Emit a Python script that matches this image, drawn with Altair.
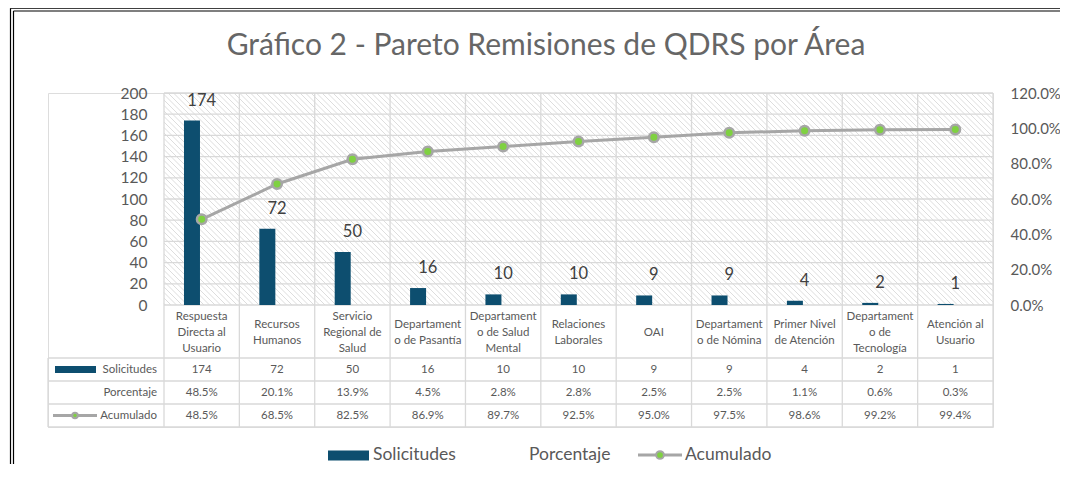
import altair as alt
import pandas as pd
import numpy as np

# ---------------- data ----------------
categories = ["Respuesta Directa al Usuario", "Recursos Humanos", "Servicio Regional de Salud",
              "Departamento de Pasantía", "Departamento de Salud Mental", "Relaciones Laborales",
              "OAI", "Departamento de Nómina", "Primer Nivel de Atención",
              "Departamento de Tecnología", "Atención al Usuario"]
category_labels = ["Respuesta\nDirecta al\nUsuario", "Recursos\nHumanos", "Servicio\nRegional de\nSalud",
                   "Departament\no de Pasantía", "Departament\no de Salud\nMental", "Relaciones\nLaborales",
                   "OAI", "Departament\no de Nómina", "Primer Nivel\nde Atención",
                   "Departament\no de\nTecnología", "Atención al\nUsuario"]
solicitudes = [174, 72, 50, 16, 10, 10, 9, 9, 4, 2, 1]
porcentaje = [48.5, 20.1, 13.9, 4.5, 2.8, 2.8, 2.5, 2.5, 1.1, 0.6, 0.3]
acumulado = [48.5, 68.5, 82.5, 86.9, 89.7, 92.5, 95.0, 97.5, 98.6, 99.2, 99.4]
left_ticks = [0, 20, 40, 60, 80, 100, 120, 140, 160, 180, 200]
right_ticks = [0.0, 0.2, 0.4, 0.6, 0.8, 1.0, 1.2]
series = ["Solicitudes", "Porcentaje", "Acumulado"]
title_text = "Gráfico 2 - Pareto Remisiones de QDRS por Área"

# ---------------- layout (pixels, relative to plot origin) ----------------
W, H = 945, 334
PAD = {"left": 40, "top": 85, "right": 67, "bottom": 37}
X0 = 116                      # left edge of first category
N = len(categories)
COL = (W - X0) / N            # category width in px
Y0 = 212                      # pixel row of value 0
PX_PER_UNIT = Y0 / 200.0
YMIN = 200 - H / PX_PER_UNIT
XMIN = -X0 / COL
HEADER_Y = 239.5
LINE_H = 16
ROW_Y = [276.5, 299.5, 322.5]
ROW_LINES = [265, 288, 311, 334]
RIGHT_EDGE = W + PAD["right"]
BOTTOM_EDGE = H + PAD["bottom"]

BLUE = "#0d4e6f"
GRAY_LINE = "#a6a6a6"
GREEN = "#7fd141"
TXT = "#595959"
GRID = "#d9d9d9"
FONT = "Lato"

xscale = alt.Scale(domain=[XMIN, N], nice=False, zero=False)
yscale = alt.Scale(domain=[YMIN, 200], nice=False, zero=False)
y2scale = alt.Scale(domain=[YMIN * 1.2 / 200, 1.2], nice=False, zero=False)

df = pd.DataFrame({
    "cat": categories,
    "label": category_labels,
    "sol": solicitudes,
    "pct": np.array(porcentaje) / 100.0,
    "acum": np.array(acumulado) / 100.0,
})
df["xc"] = np.arange(N) + 0.5
df["xl"] = df["xc"] - 17.7 / COL
df["xr"] = df["xc"] - 1.7 / COL
df["hy"] = [HEADER_Y - (lab.count("\n")) * LINE_H / 2 for lab in category_labels]

# hatch pattern of plot area (decoration)
hatch = []
step = 5.5
b = -W
while b < Y0 - X0:
    xs = max(X0, -b)
    xe = min(W, Y0 - b)
    if xs < xe:
        hatch.append({"x": xs, "y": xs + b, "x2": xe, "y2": xe + b})
    b += step
hatch_df = pd.DataFrame(hatch)

# grid and table lines (decoration)
lines = []
for t in left_ticks:
    yy = Y0 - t * PX_PER_UNIT
    lines.append({"x": X0, "x2": W, "y": yy, "y2": yy})
for ry in ROW_LINES:
    lines.append({"x": 0, "x2": W, "y": ry, "y2": ry})
for i in range(N + 1):
    xx = X0 + i * COL
    lines.append({"x": xx, "x2": xx, "y": 0, "y2": H})
lines.append({"x": 0, "x2": 0, "y": ROW_LINES[0], "y2": H})
lines_df = pd.DataFrame(lines)

frame_df = pd.DataFrame([
    {"x": -37.5, "x2": -37.5, "y": -84.8, "y2": BOTTOM_EDGE},
    {"x": -34.5, "x2": -34.5, "y": -82, "y2": BOTTOM_EDGE},
    {"x": -37.5, "x2": RIGHT_EDGE, "y": -84.8, "y2": -84.8},
    {"x": -34.5, "x2": RIGHT_EDGE, "y": -82, "y2": -82},
])

def px_rule(data, color, width):
    return alt.Chart(data).mark_rule(color=color, strokeWidth=width).encode(
        x=alt.X("x:Q", scale=None), x2="x2:Q",
        y=alt.Y("y:Q", scale=None), y2="y2:Q")

hatch_layer = px_rule(hatch_df, "#d4d4d4", 0.8)
grid_layer = px_rule(lines_df, GRID, 1.3)
frame_layer = px_rule(frame_df, "#000000", 1.2)

title_df = pd.DataFrame({"t": [title_text]})
title_layer = alt.Chart(title_df).mark_text(font=FONT, fontSize=30, color="#666666",
                                            align="center", baseline="alphabetic").encode(
    x=alt.value(498), y=alt.value(-38.5), text="t:N")

bars = alt.Chart(df).mark_rect(color=BLUE).encode(
    x=alt.X("xl:Q", scale=xscale, axis=None), x2="xr:Q",
    y=alt.Y("sol:Q", scale=yscale,
            axis=alt.Axis(values=left_ticks, offset=-X0, ticks=False, domain=False, grid=False,
                          labelPadding=17, labelFontSize=15.5, labelFont=FONT, labelColor=TXT,
                          title=None, orient="left")),
    y2=alt.datum(0),
    tooltip=["cat:N", "sol:Q"])

bar_labels = alt.Chart(df).mark_text(font=FONT, fontSize=16.5, color="#404040", dy=-20,
                                     baseline="middle").encode(
    x=alt.X("xc:Q", scale=xscale, axis=None),
    y=alt.Y("sol:Q", scale=yscale, axis=None),
    text="sol:Q")

# table texts
head = alt.Chart(df).mark_text(font=FONT, fontSize=11.5, color=TXT, lineBreak="\n",
                               lineHeight=LINE_H, baseline="middle").encode(
    x=alt.X("xc:Q", scale=xscale, axis=None),
    y=alt.Y("hy:Q", scale=None),
    text="label:N")
row_sol = alt.Chart(df).mark_text(font=FONT, fontSize=11.5, color=TXT, baseline="middle").encode(
    x=alt.X("xc:Q", scale=xscale, axis=None), y=alt.value(ROW_Y[0]), text="sol:Q")
row_pct = alt.Chart(df).mark_text(font=FONT, fontSize=11.5, color=TXT, baseline="middle").encode(
    x=alt.X("xc:Q", scale=xscale, axis=None), y=alt.value(ROW_Y[1]),
    text=alt.Text("pct:Q", format=".1%"))
row_acu = alt.Chart(df).mark_text(font=FONT, fontSize=11.5, color=TXT, baseline="middle").encode(
    x=alt.X("xc:Q", scale=xscale, axis=None), y=alt.value(ROW_Y[2]),
    text=alt.Text("acum:Q", format=".1%"))

rowlab_df = pd.DataFrame({"s": series, "y": ROW_Y})
row_labels = alt.Chart(rowlab_df).mark_text(font=FONT, fontSize=11.5, color=TXT, align="right",
                                            baseline="middle").encode(
    x=alt.value(109), y=alt.Y("y:Q", scale=None), text="s:N")

# keys in table and legend
key_rect_df = pd.DataFrame([{"x": 7, "x2": 48, "y": 273, "y2": 280},
                            {"x": 280, "x2": 321, "y": 357.5, "y2": 367.5}])
key_rects = alt.Chart(key_rect_df).mark_rect(color=BLUE).encode(
    x=alt.X("x:Q", scale=None), x2="x2:Q", y=alt.Y("y:Q", scale=None), y2="y2:Q")
key_line_df = pd.DataFrame([{"x": 5, "x2": 49, "y": 322.5, "y2": 322.5},
                            {"x": 590, "x2": 634, "y": 362, "y2": 362}])
key_lines = alt.Chart(key_line_df).mark_rule(color=GRAY_LINE, strokeWidth=3).encode(
    x=alt.X("x:Q", scale=None), x2="x2:Q", y=alt.Y("y:Q", scale=None), y2="y2:Q")
key_dot_df = pd.DataFrame([{"x": 27, "y": 322.5, "s": 30}, {"x": 612, "y": 362, "s": 60}])
key_dots = alt.Chart(key_dot_df).mark_point(filled=True, fill=GREEN, stroke=GRAY_LINE,
                                            strokeWidth=2, opacity=1).encode(
    x=alt.X("x:Q", scale=None), y=alt.Y("y:Q", scale=None), size=alt.Size("s:Q", scale=None))
legend_df = pd.DataFrame({"s": series, "x": [325, 481, 637], "y": [361.5, 361.5, 361.5]})
legend_text = alt.Chart(legend_df).mark_text(font=FONT, fontSize=17.5, color=TXT, align="left",
                                             baseline="middle").encode(
    x=alt.X("x:Q", scale=None), y=alt.Y("y:Q", scale=None), text="s:N")

line = alt.Chart(df).mark_line(color=GRAY_LINE, strokeWidth=3).encode(
    x=alt.X("xc:Q", scale=xscale, axis=None),
    y=alt.Y("acum:Q", scale=y2scale,
            axis=alt.Axis(values=right_ticks, format=".1%", orient="right", ticks=False,
                          domain=False, grid=False, labelPadding=17, labelFontSize=15,
                          labelFont=FONT, labelColor=TXT, title=None)))
points = alt.Chart(df).mark_point(filled=True, fill=GREEN, stroke=GRAY_LINE, strokeWidth=2.5,
                                  size=90, opacity=1).encode(
    x=alt.X("xc:Q", scale=xscale, axis=None),
    y=alt.Y("acum:Q", scale=y2scale, axis=None),
    tooltip=["cat:N", alt.Tooltip("acum:Q", format=".1%")])

chart = alt.layer(
    hatch_layer, grid_layer, bars, bar_labels, line, points, head, row_sol, row_pct, row_acu,
    row_labels, key_rects, key_lines, key_dots, legend_text, frame_layer, title_layer
).resolve_scale(y="independent").properties(
    width=W, height=H,
    autosize=alt.AutoSizeParams(type="none"),
    padding=PAD,
).configure_view(stroke=None).configure(background="white")

chart.save("out.html", embed_options={"renderer": "svg", "actions": False})
